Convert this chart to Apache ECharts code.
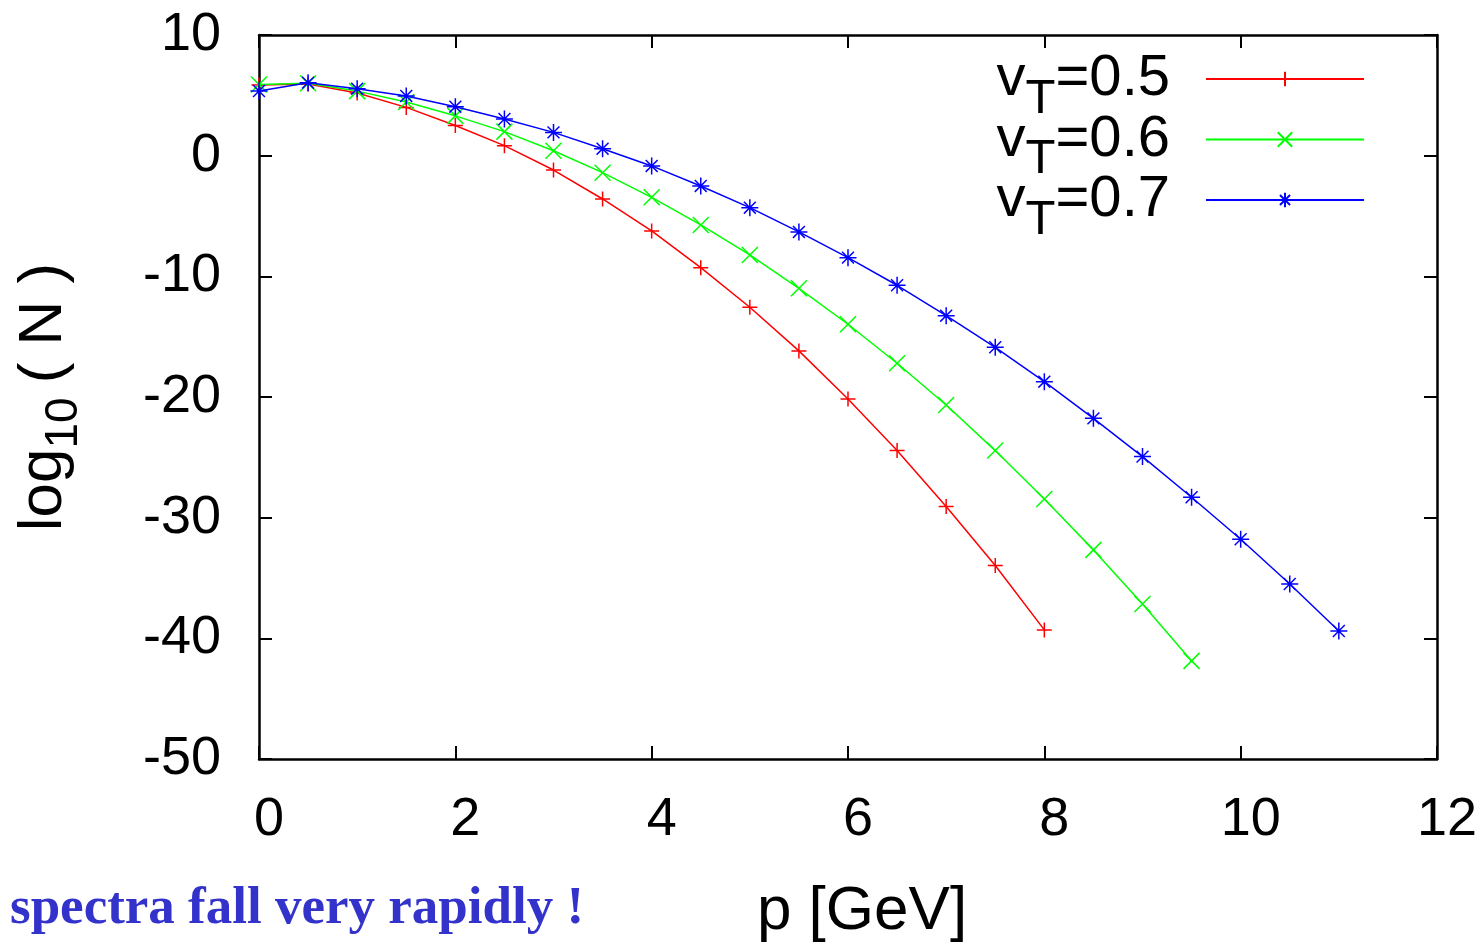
<!DOCTYPE html>
<html>
<head>
<meta charset="utf-8">
<script src="https://cdn.jsdelivr.net/npm/echarts@6/dist/echarts.min.js"></script>
<style>
html,body{margin:0;padding:0;background:#fff;overflow:hidden;}
#chart{width:1483px;height:943px;}
</style>
</head>
<body>
<div id="chart"></div>
<script>
const momentum = [0,0.5,1,1.5,2,2.5,3,3.5,4,4.5,5,5.5,6,6.5,7,7.5,8,8.5,9,9.5,10,10.5,11];
const vT05 = [5.86,5.94,5.2,4.0,2.5,0.83,-1.19,-3.59,-6.24,-9.28,-12.56,-16.18,-20.16,-24.44,-29.08,-33.97,-39.3];
const vT06 = [5.9,6.0,5.35,4.45,3.3,1.99,0.41,-1.41,-3.45,-5.74,-8.23,-10.99,-13.97,-17.2,-20.66,-24.44,-28.45,-32.67,-37.15,-41.87];
const vT07 = [5.36,6.05,5.55,4.95,4.06,3.04,1.93,0.58,-0.85,-2.51,-4.31,-6.32,-8.45,-10.74,-13.26,-15.88,-18.73,-21.77,-24.94,-28.31,-31.79,-35.5,-39.39];
const seriesNames = ['0.5','0.6','0.7'];
const seriesColors = ['#ff0000','#00ff00','#0000ff'];
const xTicks = [0,2,4,6,8,10,12];
const yTicks = [10,0,-10,-20,-30,-40,-50];
const noteText = 'spectra fall very rapidly !';

const symPlus = 'path://M0,6L12,6M6,0L6,12';
const symCross = 'path://M0,0L12,12M0,12L12,0';
const symStar = 'path://M0,6L12,6M6,0L6,12M1.8,1.8L10.2,10.2M1.8,10.2L10.2,1.8';
const symbols = [symPlus, symCross, symStar];
const sizes = [15, 16, 17];

function pairs(vals){ return vals.map((v,i)=>[momentum[i], v]); }
const allVals = [vT05, vT06, vT07];

const chart = echarts.init(document.getElementById('chart'), null, {width: 1483, height: 943});
const FONT = 'Liberation Sans, Arial, sans-serif';

const series = allVals.map((vals, k) => ({
  name: seriesNames[k],
  type: 'line',
  data: pairs(vals),
  symbol: symbols[k],
  symbolSize: sizes[k],
  showSymbol: true,
  lineStyle: {color: seriesColors[k], width: 1.5},
  itemStyle: {color: seriesColors[k], borderColor: seriesColors[k], borderWidth: 1.5},
  emphasis: {disabled: true},
  animation: false,
  z: 3 + k
}));

const axisCommon = {
  type: 'value',
  axisLine: {show: true, onZero: false, lineStyle: {color: '#000', width: 2.5}},
  axisTick: {show: true, inside: true, length: 13, lineStyle: {color: '#000', width: 2}},
  splitLine: {show: false}
};

chart.setOption({
  animation: false,
  backgroundColor: '#fff',
  grid: {left: 259, top: 35, right: 46, bottom: 184, containLabel: false, outerBoundsMode: 'none'},
  legend: {
    right: 113, top: 45, orient: 'vertical', align: 'right',
    itemWidth: 158, itemHeight: 18, itemGap: -13,
    data: seriesNames,
    formatter: function(name){ return '{m|v}{s|T}{m|=' + name + '}{g|}'; },
    textStyle: {
      rich: {
        m: {fontSize: 58, fontFamily: FONT, color: '#000', lineHeight: 50, height: 50, verticalAlign: 'middle'},
        s: {fontSize: 49, fontFamily: FONT, color: '#000', lineHeight: 10, height: 10, verticalAlign: 'bottom'},
        g: {width: 31, lineHeight: 50, height: 50}
      }
    }
  },
  xAxis: [
    Object.assign({}, axisCommon, {
      min: 0, max: 12, interval: 2, position: 'bottom',
      name: 'p [GeV]', nameLocation: 'middle', nameGap: 122,
      nameTextStyle: {fontSize: 62, fontFamily: FONT, color: '#000', padding: [0,0,0,28]},
      axisLabel: {show: true, fontSize: 54, fontFamily: FONT, color: '#000', margin: 34, padding: [0,0,0,20],
        formatter: v => xTicks.includes(v) ? String(v) : ''}
    }),
    Object.assign({}, axisCommon, {
      min: 0, max: 12, interval: 2, position: 'top', axisLabel: {show: false}
    })
  ],
  yAxis: [
    Object.assign({}, axisCommon, {
      min: -50, max: 10, interval: 10, position: 'left',
      name: '{m|log}{s|10}{m|( N )}', nameLocation: 'middle', nameGap: 190, nameRotate: 90,
      nameTextStyle: {
        rich: {
          m: {fontSize: 62, fontFamily: FONT, color: '#000', lineHeight: 50, height: 50, verticalAlign: 'middle'},
          s: {fontSize: 46, fontFamily: FONT, color: '#000', lineHeight: 10, height: 10, verticalAlign: 'bottom', padding: [0,14,0,0]}
        }
      },
      axisLabel: {show: true, fontSize: 54, fontFamily: FONT, color: '#000', margin: 38,
        formatter: v => yTicks.includes(v) ? String(v) : ''}
    }),
    Object.assign({}, axisCommon, {
      min: -50, max: 10, interval: 10, position: 'right', axisLabel: {show: false}
    })
  ],
  graphic: [{
    type: 'text', x: 10, y: 909,
    style: {text: noteText, font: 'bold 53px "Liberation Serif", "Times New Roman", serif', fill: '#3333cc', align: 'left', verticalAlign: 'middle'}
  }],
  series: series
});
</script>
</body>
</html>
